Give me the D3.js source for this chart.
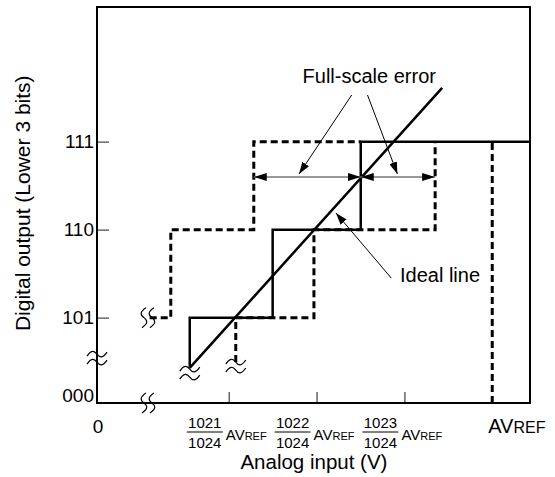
<!DOCTYPE html>
<html>
<head>
<meta charset="utf-8">
<script src="https://cdn.jsdelivr.net/npm/d3@7"></script>
<style>
  body { margin: 0; background: #fff; }
  text { font-family: "Liberation Sans", Arial, sans-serif; fill: #000; }
</style>
</head>
<body>
<div id="chart"></div>
<script>
// output codes (lower 3 bits) and where they sit on the y scale
var codeLabels = ["000", "101", "110", "111"];
var codeValues = [4.03, 5, 6, 7];

// x ticks, in 1/1024 AVREF steps
var xTicks = [1021, 1022, 1023];
var xTickNums = ["1021", "1022", "1023"];
var xDen = "1024";
var avref = 1024;

// actual conversion characteristic (solid)
var actualX = [1020.556, 1020.556, 1021.5, 1021.5, 1022.503, 1022.503, 1024.43];
var actualY = [4.43, 5, 5, 6, 6, 7, 7];

// full-scale error bounds (dashed)
var lowX = [1020.1, 1020.34, 1020.34, 1021.285, 1021.285, 1022.503];
var lowY = [5, 5, 6, 6, 7, 7];
var highX = [1021.08, 1021.08, 1021.97, 1021.97, 1023.35, 1023.35];
var highY = [4.496, 5, 5, 6, 6, 7];
var avrefY = [4.03, 7];

// ideal line
var idealX = [1020.556, 1023.43];
var idealY = [4.43, 7.61];

// full-scale error span arrows
var errY = 6.598;
var errX = [1021.285, 1022.503, 1023.35];

// break marks: x, y, orientation
var breaksX = [1019.5, 1020.08, 1020.08, 1020.556, 1021.08];
var breaksY = [4.54, 4.03, 5.0, 4.37, 4.45];
var breaksO = ["h", "v", "v", "h", "h"];

var width = 555, height = 477;

var x = d3.scaleLinear().domain([1019.5, 1024.43]).range([97, 530]);
var y = d3.scaleLinear().domain([4.03, 8.53]).range([403, 7]);

var svg = d3.select("#chart").append("svg")
  .attr("width", width)
  .attr("height", height);

var defs = svg.append("defs");
defs.append("marker")
  .attr("id", "head")
  .attr("viewBox", "0 0 12 8")
  .attr("refX", 12).attr("refY", 4)
  .attr("markerWidth", 12).attr("markerHeight", 8)
  .attr("markerUnits", "userSpaceOnUse")
  .attr("orient", "auto-start-reverse")
  .append("path").attr("d", "M0,0 L12,4 L0,8 Z").attr("fill", "#000");
defs.append("marker")
  .attr("id", "bighead")
  .attr("viewBox", "0 0 13 8")
  .attr("refX", 13).attr("refY", 4)
  .attr("markerWidth", 13).attr("markerHeight", 8)
  .attr("markerUnits", "userSpaceOnUse")
  .attr("orient", "auto-start-reverse")
  .append("path").attr("d", "M0,0 L13,4 L0,8 Z").attr("fill", "#000");

// axes (ticks point inward)
var xAxis = d3.axisBottom(x).tickValues(xTicks).tickSizeInner(-11).tickSizeOuter(0).tickFormat("");
svg.append("g").attr("transform", "translate(0," + y(codeValues[0]) + ")").call(xAxis)
  .call(function(g) { g.select(".domain").remove(); })
  .selectAll(".tick line").attr("stroke", "#666").attr("stroke-width", 1.5);

var yAxis = d3.axisLeft(y).tickValues(codeValues).tickSizeInner(-12).tickSizeOuter(0).tickPadding(3)
  .tickFormat(function(d, i) { return codeLabels[i]; });
var yg = svg.append("g").attr("transform", "translate(" + x(1019.5) + ",0)").call(yAxis);
yg.select(".domain").remove();
yg.selectAll(".tick line").attr("stroke", "#666").attr("stroke-width", 1.5);
yg.selectAll(".tick text").attr("font-size", 19).attr("font-family", "Liberation Sans, Arial, sans-serif").attr("fill", "#000");
yg.selectAll(".tick").filter(function(d, i) { return i === 0; })
  .select("text").attr("dy", "-0.1em");
yg.selectAll(".tick").filter(function(d, i) { return i === 0; }).select("line").remove();

var line = d3.line().x(function(d) { return x(d[0]); }).y(function(d) { return y(d[1]); });
function pts(xs, ys) { return xs.map(function(v, i) { return [v, ys[i]]; }); }

// dashed bounds
var dashStyle = function(p) {
  p.attr("fill", "none").attr("stroke", "#000").attr("stroke-width", 3).attr("stroke-dasharray", "7,4");
};
svg.append("path").attr("d", line(pts(lowX, lowY))).call(dashStyle);
svg.append("path").attr("d", line(pts(highX, highY))).call(dashStyle);
svg.append("path").attr("d", line(pts([avref, avref], avrefY))).call(dashStyle);

// actual characteristic
svg.append("path").attr("d", line(pts(actualX, actualY)))
  .attr("fill", "none").attr("stroke", "#000").attr("stroke-width", 2.5);

// ideal line
svg.append("path").attr("d", line(pts(idealX, idealY)))
  .attr("fill", "none").attr("stroke", "#000").attr("stroke-width", 2.5);

// frame
svg.append("rect")
  .attr("x", x(1019.5)).attr("y", y(8.53))
  .attr("width", x(1024.43) - x(1019.5)).attr("height", y(4.03) - y(8.53))
  .attr("fill", "none").attr("stroke", "#000").attr("stroke-width", 2);

// full-scale error span arrows
[[errX[0], errX[1]], [errX[1], errX[2]]].forEach(function(s) {
  svg.append("line")
    .attr("x1", x(s[0])).attr("x2", x(s[1]))
    .attr("y1", y(errY)).attr("y2", y(errY))
    .attr("stroke", "#777").attr("stroke-width", 1.5)
    .attr("marker-start", "url(#bighead)").attr("marker-end", "url(#bighead)");
});

// break marks
var tilde = "M-10,2 C-6,-4 -3,-4 0,0 S6,4 10,-2";
var vs = "M2,-10 C-4,-6 -4,-3 0,0 S4,6 -2,10";
breaksX.forEach(function(bx, i) {
  var g = svg.append("g").attr("transform", "translate(" + x(bx) + "," + y(breaksY[i]) + ")");
  var offs = [-4, 4];
  offs.forEach(function(o) {
    g.append("path")
      .attr("d", breaksO[i] === "h" ? tilde : vs)
      .attr("transform", breaksO[i] === "h" ? "translate(0," + o + ")" : "translate(" + o + ",0)")
      .attr("fill", "none").attr("stroke", "#000").attr("stroke-width", 1.2);
  });
});

// annotations
var fseTextX = 1022.6, fseTextY = 7.67;
var fseFromX = [1022.40, 1022.58], fseFromY = 7.53;
var fseToX = [1021.8, 1022.92];
var idealTextX = 1022.95, idealTextY = 5.4;
var idealFrom = [1022.85, 5.45], idealTo = [1022.22, 6.19];

svg.append("text").attr("x", x(fseTextX)).attr("y", y(fseTextY))
  .attr("text-anchor", "middle").attr("font-size", 20).text("Full-scale error");
fseFromX.forEach(function(fx, i) {
  svg.append("line")
    .attr("x1", x(fx)).attr("y1", y(fseFromY))
    .attr("x2", x(fseToX[i])).attr("y2", y(errY) - 3)
    .attr("stroke", "#000").attr("stroke-width", 1)
    .attr("marker-end", "url(#head)");
});
svg.append("text").attr("x", x(idealTextX)).attr("y", y(idealTextY))
  .attr("font-size", 20).text("Ideal line");
svg.append("line")
  .attr("x1", x(idealFrom[0])).attr("y1", y(idealFrom[1]))
  .attr("x2", x(idealTo[0])).attr("y2", y(idealTo[1]))
  .attr("stroke", "#000").attr("stroke-width", 1)
  .attr("marker-end", "url(#head)");

// x tick labels
var labY = 431;
svg.append("text").attr("x", x(1019.5) + 1).attr("y", labY + 2)
  .attr("text-anchor", "middle").attr("font-size", 19).text("0");

xTicks.forEach(function(t, i) {
  var cx = x(t) - 24;
  var g = svg.append("g");
  g.append("text").attr("x", cx).attr("y", labY - 3).attr("text-anchor", "middle")
    .attr("font-size", 15).text(xTickNums[i]);
  g.append("line").attr("x1", cx - 18).attr("x2", cx + 18)
    .attr("y1", labY + 1).attr("y2", labY + 1)
    .attr("stroke", "#000").attr("stroke-width", 1);
  g.append("text").attr("x", cx).attr("y", labY + 17).attr("text-anchor", "middle")
    .attr("font-size", 15).text(xDen);
  var av = g.append("text").attr("x", cx + 21).attr("y", labY + 9).attr("font-size", 15);
  av.append("tspan").text("AV");
  av.append("tspan").attr("font-size", 11).text("REF");
});

var avr = svg.append("text").attr("x", x(avref) - 4).attr("y", labY + 2).attr("font-size", 20);
avr.append("tspan").text("AV");
avr.append("tspan").attr("font-size", 16).text("REF");

// axis titles
svg.append("text").attr("x", x(1021.97)).attr("y", 469)
  .attr("text-anchor", "middle").attr("font-size", 20.5).text("Analog input (V)");
svg.append("text")
  .attr("transform", "translate(29.5," + y(6.3) + ") rotate(-90)")
  .attr("text-anchor", "middle").attr("font-size", 21).text("Digital output (Lower 3 bits)");
</script>
</body>
</html>
